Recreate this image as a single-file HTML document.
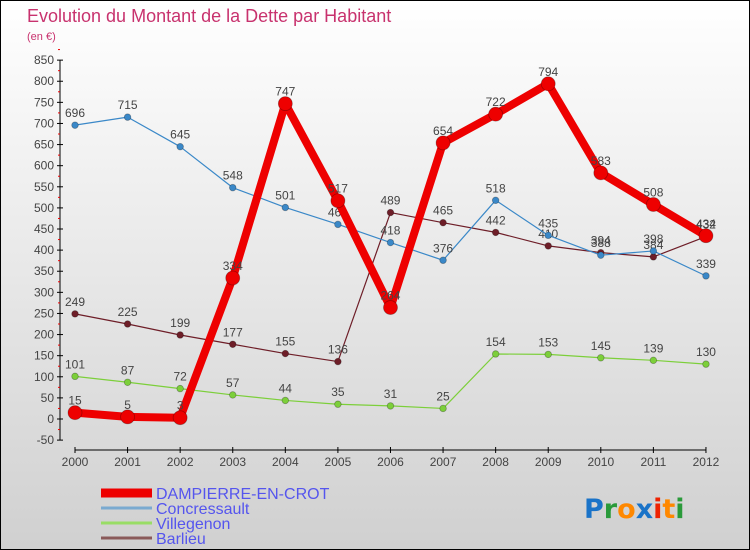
<!DOCTYPE html>
<html><head><meta charset="utf-8"><style>
body{margin:0}
#c{width:748px;height:548px;border:1px solid #000;background:linear-gradient(#fff,#d0d0d0);position:relative;font-family:"Liberation Sans",sans-serif;overflow:hidden}
</style></head><body>
<div id="c">
<svg id="s" width="748" height="548" style="position:absolute;left:0;top:0"></svg>
</div>
<script>
const years=["2000","2001","2002","2003","2004","2005","2006","2007","2008","2009","2010","2011","2012"];
const yTicks=[-50,0,50,100,150,200,250,300,350,400,450,500,550,600,650,700,750,800,850];
const dampierre=[15,5,3,334,747,517,264,654,722,794,583,508,434];
const concressault=[696,715,645,548,501,461,418,376,518,435,388,398,339];
const villegenon=[101,87,72,57,44,35,31,25,154,153,145,139,130];
const barlieu=[249,225,199,177,155,136,489,465,442,410,394,384,432];
const NS="http://www.w3.org/2000/svg";
const s=document.getElementById('s');
function X(i){return 74+i*52.58;}
function Y(v){return 418-v*0.4222;}
function mk(t,a,p){const e=document.createElementNS(NS,t);for(const k in a)e.setAttribute(k,a[k]);(p||s).appendChild(e);return e;}
function tx(x,y,str,size,fill,anchor){const e=mk('text',{x:x,y:y,'font-size':size,fill:fill,'text-anchor':anchor||'middle'});e.textContent=str;return e;}
let t=tx(26,21,"Evolution du Montant de la Dette par Habitant",18,"#c8326e","start");

t=tx(26,39,"(en €)",11,"#c8326e","start");

let ax=mk('line',{x1:59,y1:Y(850),x2:59,y2:Y(-50),stroke:'#000'});

yTicks.forEach(v=>{mk('line',{x1:56,x2:62,y1:Y(v),y2:Y(v),stroke:'#000'});
 mk('line',{x1:57,x2:59,y1:Y(v+25),y2:Y(v+25),stroke:'#e00'});
 const l=tx(53,Y(v)+4,String(v),12,"#444","end");});
ax=mk('line',{x1:X(0),y1:449,x2:X(12),y2:449,stroke:'#000'});

years.forEach((y,i)=>{mk('line',{x1:X(i),x2:X(i),y1:446,y2:452,stroke:'#000'});
 const l=tx(X(i),465,y,12,"#444");});
function series(vals,color,w,r,name){
 const g=mk('g',{});
 mk('polyline',{points:vals.map((v,i)=>X(i)+','+Y(v)).join(' '),fill:'none',stroke:color,'stroke-width':w,'stroke-linejoin':'round'},g);
 vals.forEach((v,i)=>{const c=mk('circle',{cx:X(i),cy:Y(v),r:r,fill:color,stroke:'rgba(0,0,0,0.3)','stroke-width':0.8},g);
  
  const l=tx(X(i),Y(v)-8,String(v),12,"#444");g.appendChild(l);});
}
series(villegenon,'#7ccf3a',1.2,3.3,'series-villegenon');
series(barlieu,'#6e1e28',1.2,3.3,'series-barlieu');
series(concressault,'#3a88c8',1.2,3.3,'series-concressault');
series(dampierre,'#ee0000',8,7,'series-dampierre');
const leg=[["DAMPIERRE-EN-CROT","#ee0000",9],["Concressault","#7aaad0",3],["Villegenon","#99dd66",3],["Barlieu","#8a5a5a",3]];
leg.forEach((l,i)=>{const y=492+i*15;const g=mk('g',{});
 mk('line',{x1:100,x2:151,y1:y,y2:y,stroke:l[1],'stroke-width':l[2]},g);
 const e=tx(155,y+6,l[0],16,"#5555ee","start");g.appendChild(e);});
const logo=[["P","#1a73c8"],["r","#2a9a3a"],["o","#ff8800"],["x","#1a73c8"],["i","#ee2200"],["t","#ff8800"],["i","#2a9a3a"]];
const lg=mk('text',{x:583,y:517,'font-size':27,'font-family':'"DejaVu Sans",sans-serif','font-weight':'bold'});

logo.forEach(p=>{const sp=mk('tspan',{fill:p[1]},lg);sp.textContent=p[0];});
</script>
</body></html>
